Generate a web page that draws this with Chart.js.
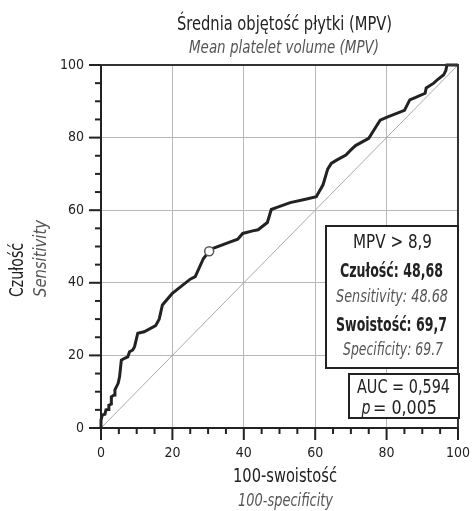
<!DOCTYPE html>
<html>
<head>
<meta charset="utf-8">
<script src="https://cdn.jsdelivr.net/npm/chart.js@4"></script>
<style>
  html, body { margin: 0; padding: 0; background: #fff; }
</style>
</head>
<body>
<canvas id="rocChart" width="475" height="511"></canvas>
<script>
// Krzywa ROC
const fpr = [0, 0, 0.4, 1.1, 1.4, 2, 2.2, 2.9, 2.9, 3.7, 3.9, 4.8, 5.2, 5.7, 6.6, 7.5, 8, 8.9, 9.4, 10.3,
  12.1, 15.3, 16.3, 17.2, 19.9, 25, 26.4, 28.7, 30.3, 31.4, 35.5, 38.3, 39.7, 42.5, 44, 46.6, 47.7, 49.3,
  53, 57.6, 60.3, 62.2, 63.5, 64.5, 66, 68.6, 70, 71.3, 75, 76.6, 78.2, 80.5, 85, 86.5, 88, 90.8, 91.1,
  93.2, 94.3, 96, 96.6, 96.9, 100];
const tpr = [0, 2.2, 3.6, 3.8, 5, 5.1, 6.3, 6.6, 8.6, 9.1, 10.5, 12.3, 14.1, 18.7, 19.2, 19.6, 21, 21.5, 22.4, 26.1,
  26.5, 28.2, 30, 33.9, 37, 41, 41.7, 46.7, 48.68, 49.5, 51, 52, 53.6, 54.3, 54.6, 56.6, 60.2, 60.8,
  62.1, 63.1, 63.7, 67, 71.3, 72.9, 73.8, 75.2, 76.6, 77.8, 79.8, 82.3, 84.8, 85.8, 87.5, 90.4, 91, 92.2, 93.7,
  95, 96, 97.3, 98.5, 100, 100];
// Linia odniesienia
const refX = [0, 100];
const refY = [0, 100];
// Punkt odcięcia
const cutX = [30.3];
const cutY = [48.68];
const tickValues = [0, 20, 40, 60, 80, 100];

const FONT = "'Liberation Sans Narrow', 'DejaVu Sans Condensed', sans-serif";
const DARK = "#222";
const GREY = "#555";

function toPoints(xs, ys) {
  return xs.map((x, i) => ({ x: x, y: ys[i] }));
}

// tekst zwężony do podanej szerokości (krój wąski)
function fitText(c, text, cx, cy, font, color, width, rot) {
  c.save();
  c.font = font;
  c.fillStyle = color;
  c.textAlign = "center";
  c.textBaseline = "middle";
  const w = c.measureText(text).width;
  c.translate(cx, cy);
  if (rot) c.rotate(rot);
  c.scale(width / w, 1);
  c.fillText(text, 0, 0);
  c.restore();
}

// Dodatkowe elementy: tytuły, znaczniki, ramki z opisem
const extras = {
  id: "extras",
  afterDraw(chart) {
    const c = chart.ctx;
    const a = chart.chartArea;
    const xs = chart.scales.x;
    const ys = chart.scales.y;
    c.save();

    // górna i prawa ramka
    c.strokeStyle = "#333";
    c.lineWidth = 2;
    c.beginPath();
    c.moveTo(a.left, a.top);
    c.lineTo(a.right, a.top);
    c.lineTo(a.right, a.bottom);
    c.stroke();

    // znaczniki osi
    c.strokeStyle = DARK;
    c.lineWidth = 2;
    for (let v = 0; v <= 100; v += 5) {
      const len = v % 20 === 0 ? 12 : 6;
      const px = xs.getPixelForValue(v);
      c.beginPath();
      c.moveTo(px, a.bottom);
      c.lineTo(px, a.bottom + len);
      c.stroke();
      const py = ys.getPixelForValue(v);
      c.beginPath();
      c.moveTo(a.left, py);
      c.lineTo(a.left - len, py);
      c.stroke();
    }

    fitText(c, "Średnia objętość płytki (MPV)", 284.5, 25, "19px " + FONT, DARK, 215);
    fitText(c, "Mean platelet volume (MPV)", 284, 48, "italic 18px " + FONT, GREY, 190);
    fitText(c, "100-swoistość", 285, 477, "19px " + FONT, DARK, 104);
    fitText(c, "100-specificity", 285.5, 501, "italic 18px " + FONT, GREY, 95);
    fitText(c, "Czułość", 18, 270, "19px " + FONT, DARK, 54, -Math.PI / 2);
    fitText(c, "Sensitivity", 41, 258.5, "italic 18px " + FONT, GREY, 77, -Math.PI / 2);

    // ramka z punktem odcięcia
    c.fillStyle = "#fff";
    c.strokeStyle = DARK;
    c.lineWidth = 2;
    c.fillRect(326, 226, 132, 142);
    c.strokeRect(326, 226, 132, 142);
    fitText(c, "MPV > 8,9", 392.5, 243, "19px " + FONT, DARK, 79);
    fitText(c, "Czułość: 48,68", 391.5, 272, "bold 19px " + FONT, DARK, 103);
    fitText(c, "Sensitivity: 48.68", 392, 297, "italic 18px " + FONT, GREY, 112);
    fitText(c, "Swoistość: 69,7", 391.5, 326, "bold 19px " + FONT, DARK, 111);
    fitText(c, "Specificity: 69.7", 393, 350, "italic 18px " + FONT, GREY, 100);

    // ramka AUC
    c.fillStyle = "#fff";
    c.strokeStyle = DARK;
    c.fillRect(349, 374, 110, 44);
    c.strokeRect(349, 374, 110, 44);
    fitText(c, "AUC = 0,594", 403.5, 388, "19px " + FONT, DARK, 93);
    // "p" kursywą
    fitText(c, "p", 366, 409, "italic 19px " + FONT, DARK, 9);
    fitText(c, "= 0,005", 405, 409, "19px " + FONT, DARK, 64);

    c.restore();
  }
};

const data = {
  datasets: [
    {
      label: "Linia odniesienia",
      data: toPoints(refX, refY),
      showLine: true,
      borderColor: "#aaa",
      borderWidth: 1,
      pointRadius: 0,
      order: 3
    },
    {
      label: "ROC",
      data: toPoints(fpr, tpr),
      showLine: true,
      borderColor: DARK,
      borderWidth: 3,
      pointRadius: 0,
      tension: 0,
      clip: false,
      order: 2
    },
    {
      label: "Punkt odcięcia",
      data: toPoints(cutX, cutY),
      pointRadius: 4.5,
      pointBackgroundColor: "#fff",
      pointBorderColor: GREY,
      pointBorderWidth: 1.5,
      order: 1
    }
  ]
};

const axisCommon = {
  type: "linear",
  min: 0,
  max: 100,
  afterBuildTicks(scale) {
    scale.ticks = tickValues.map(v => ({ value: v }));
  },
  ticks: {
    color: DARK,
    font: { family: FONT, size: 14 },
    padding: 5
  },
  grid: {
    color: "#b8b8b8",
    borderDash: [2, 2],
    lineWidth: 1,
    drawTicks: true,
    tickLength: 12,
    tickColor: "rgba(0,0,0,0)"
  },
  border: { display: true, color: DARK, width: 2 }
};

const config = {
  type: "scatter",
  data: data,
  options: {
    responsive: false,
    animation: false,
    devicePixelRatio: 1,
    layout: { padding: { top: 65, right: 11, left: 61, bottom: 48 } },
    plugins: {
      legend: { display: false },
      tooltip: { enabled: false }
    },
    scales: {
      x: Object.assign({}, axisCommon, {
        afterFit(scale) { scale.height = 35; }
      }),
      y: Object.assign({}, axisCommon, {
        afterFit(scale) { scale.width = 40; }
      })
    }
  },
  plugins: [extras]
};

const ctx = document.getElementById("rocChart").getContext("2d");
new Chart(ctx, config);
</script>
</body>
</html>
